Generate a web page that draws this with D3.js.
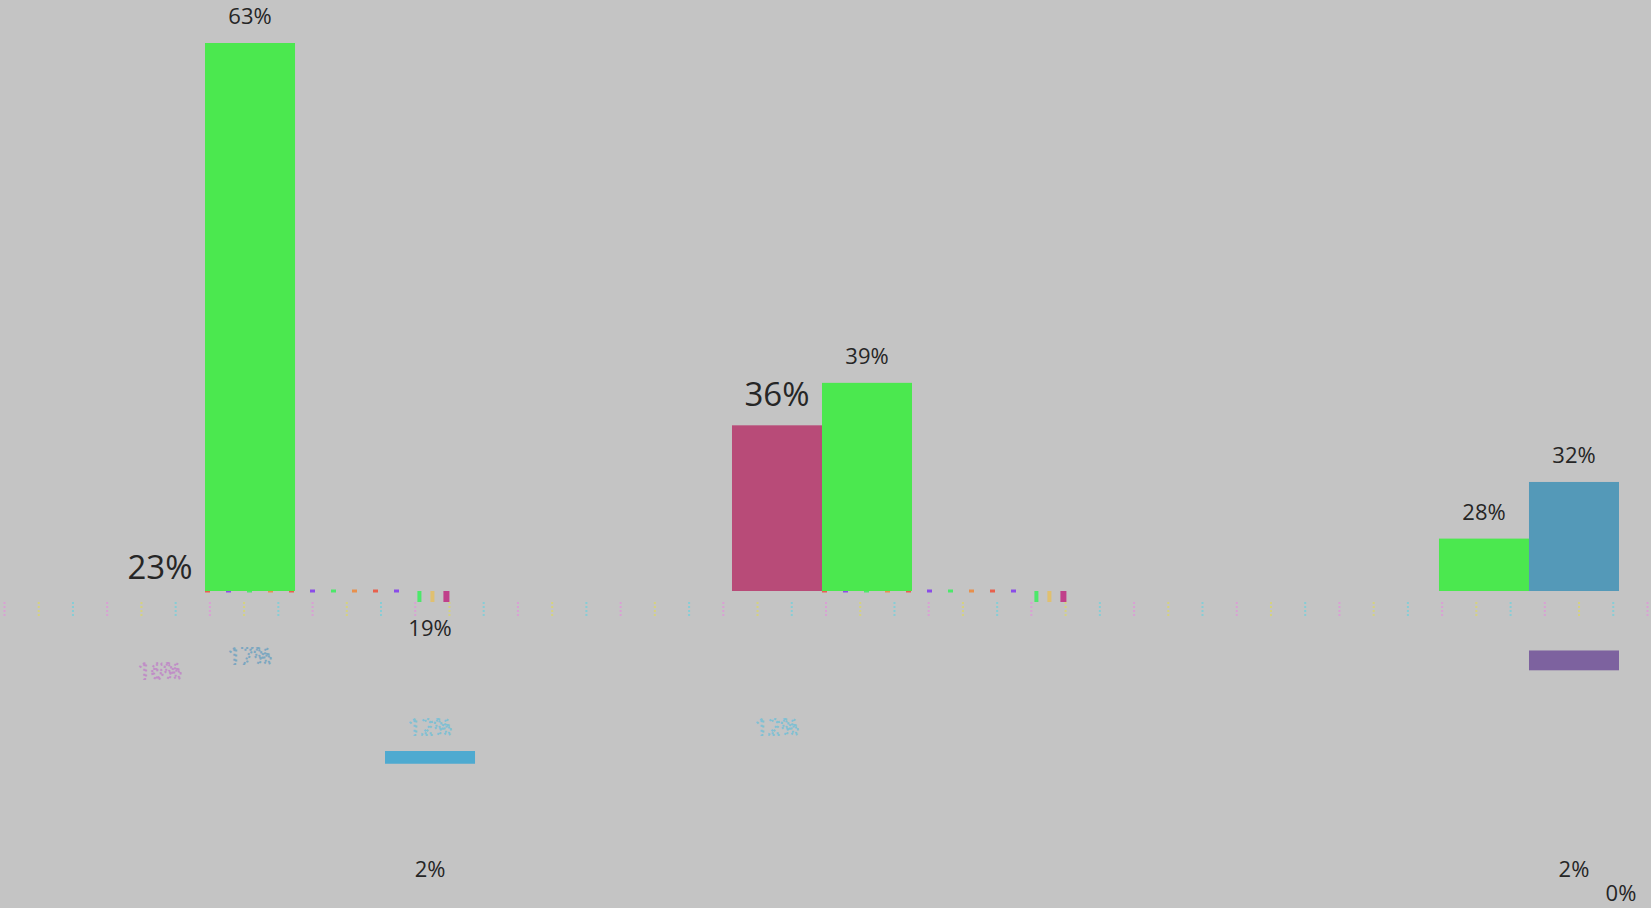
<!DOCTYPE html>
<html>
<head>
  <meta charset="utf-8">
  <title>Share by group</title>
  <style>
    body {
      margin: 0;
      padding: 0;
      background: #c4c4c4;
      font-family: 'Open Sans', sans-serif;
      overflow: hidden;
    }
    .label {
      fill: #262626;
      text-anchor: middle;
    }
    .ghost {
      font-size: 22px;
      text-anchor: middle;
      fill: none;
      stroke-width: 2;
      stroke-dasharray: 2, 3;
      opacity: .8;
    }
    .rug line {
      stroke-dasharray: 2, 2;
      stroke-width: 2;
    }
    .rug path, .rug text {
      display: none;
    }
  </style>
</head>
<body>
  <div id="chart"></div>

  <script src="https://d3js.org/d3.v7.min.js"></script>
  <script>

  // categories
  var groups = ["Group 1", "Group 2", "Group 3"]
  var series = ["A", "B", "C", "D"]
  var seriesColors = ["#b84b78", "#4be84f", "#5499b8", "#7d629f"]

  // share (%) of each series, one value per group
  var valuesA = [23, 36, null]
  var valuesB = [63, 39, 28]
  var valuesC = [null, null, 32]
  var valuesD = [19, null, 0]

  // extra value notes
  var noteText = ["2%", "2%"]
  var noteValue = [2, 2]
  var noteGroup = ["Group 1", "Group 3"]
  var noteSeries = ["D", "C"]

  // floating range bars shown under the axis
  var rangeGroup = ["Group 1", "Group 3"]
  var rangeSeries = ["D", "C"]
  var rangeLow = [12.1, 18.7]
  var rangeHigh = [13.0, 20.1]
  var rangeColors = ["#4eaad0", "#7d629f"]

  // faded labels
  var ghostText = ["16%", "17%", "12%", "12%"]
  var ghostValue = [16, 17, 12, 12]
  var ghostGroup = ["Group 1", "Group 1", "Group 1", "Group 2"]
  var ghostSeries = ["A", "B", "D", "A"]
  var ghostColors = ["#c080c8", "#6aa0c0", "#70c0d8", "#70c0d8"]

  // small key swatches at the end of each group
  var keyColors = ["#4ce86a", "#e0c070", "#c0408a"]

  var width = 1651,
      height = 908

  var svg = d3.select("#chart")
    .append("svg")
    .attr("width", width)
    .attr("height", height)

  // group bands, then one slot per series inside each group
  var x0 = d3.scaleBand()
    .domain(groups)
    .range([115, 1709])
    .paddingInner(0.4165)

  var x1 = d3.scaleBand()
    .domain(series)
    .range([0, x0.bandwidth()])

  // value axis starts above zero, so small shares fall under the baseline
  var yMin = 24.3
  var y = d3.scaleLinear()
    .domain([yMin, 63])
    .range([591, 43])

  var color = d3.scaleOrdinal().domain(series).range(seriesColors)

  function slotCenter(g, s) {
    return x0(g) + x1(s) + x1.bandwidth() / 2
  }

  // flatten the series arrays into records
  var allValues = [valuesA, valuesB, valuesC, valuesD]
  var records = []
  series.forEach(function (s, i) {
    groups.forEach(function (g, j) {
      if (allValues[i][j] != null) records.push({ group: g, series: s, value: allValues[i][j] })
    })
  })
  noteText.forEach(function (t, i) {
    records.push({ group: noteGroup[i], series: noteSeries[i], value: noteValue[i], note: true })
  })

  // dotted rug of ticks under the baseline
  var rugScale = d3.scaleLinear().domain([0, 48]).range([4, width - 4])
  var rugColors = ["#d9a0d4", "#d6d27e", "#86cdd6"]
  svg.append("g")
    .attr("class", "rug")
    .attr("transform", "translate(0,602)")
    .call(d3.axisBottom(rugScale).ticks(48).tickSize(14).tickFormat(""))
    .selectAll(".tick line")
    .style("stroke", function (d, i) { return rugColors[i % 3] })

  // coloured markers along the baseline
  var markerColors = ["#e8604c", "#8a4ce8", "#4ce86a", "#e8904c"]
  markerColors.forEach(function (c, i) {
    svg.append("g").selectAll("line")
      .data(groups.slice(0, 2))
      .enter().append("line")
      .attr("x1", function (g) { return x0(g) + x1.bandwidth() })
      .attr("x2", function (g) { return x0(g) + x0.bandwidth() * 0.82 })
      .attr("y1", y(yMin))
      .attr("y2", y(yMin))
      .attr("stroke", c)
      .attr("stroke-width", 3)
      .attr("stroke-dasharray", "5,79")
      .attr("stroke-dashoffset", -21 * i)
  })

  // key swatches
  keyColors.forEach(function (c, i) {
    svg.append("g").selectAll("rect")
      .data(groups.slice(0, 2))
      .enter().append("rect")
      .attr("x", function (g) { return x0(g) + x0.bandwidth() * 0.84 + i * 13 })
      .attr("y", y(yMin))
      .attr("width", i === 2 ? 6 : 4)
      .attr("height", 11)
      .attr("fill", c)
  })

  // bars above the axis minimum
  svg.append("g")
    .selectAll("rect")
    .data(records.filter(function (d) { return !d.note && d.value > yMin }))
    .enter().append("rect")
    .attr("x", function (d) { return x0(d.group) + x1(d.series) })
    .attr("y", function (d) { return y(d.value) })
    .attr("width", x1.bandwidth())
    .attr("height", function (d) { return y(yMin) - y(d.value) })
    .attr("fill", function (d) { return color(d.series) })

  // range bars
  svg.append("g")
    .selectAll("rect")
    .data(rangeGroup)
    .enter().append("rect")
    .attr("x", function (g, i) { return x0(g) + x1(rangeSeries[i]) })
    .attr("y", function (g, i) { return y(rangeHigh[i]) })
    .attr("width", x1.bandwidth())
    .attr("height", function (g, i) { return y(rangeLow[i]) - y(rangeHigh[i]) })
    .attr("fill", function (g, i) { return rangeColors[i] })

  // value labels, kept inside the picture
  svg.append("g")
    .selectAll("text")
    .data(records)
    .enter().append("text")
    .attr("class", "label")
    .style("font-size", function (d) { return d.series === "A" ? "33px" : "22px" })
    .attr("x", function (d) { return Math.min(slotCenter(d.group, d.series), width - 30) })
    .attr("y", function (d) {
      var off = d.value > yMin ? 19 : 30
      return Math.min(y(d.value) - off, height - 7)
    })
    .text(function (d) { return d.value + "%" })

  // faded labels
  svg.append("g")
    .selectAll("text")
    .data(ghostText)
    .enter().append("text")
    .attr("class", "ghost")
    .attr("x", function (t, i) { return slotCenter(ghostGroup[i], ghostSeries[i]) })
    .attr("y", function (t, i) { return y(ghostValue[i]) - 30 })
    .attr("stroke", function (t, i) { return ghostColors[i] })
    .text(function (t) { return t })

  </script>
</body>
</html>
